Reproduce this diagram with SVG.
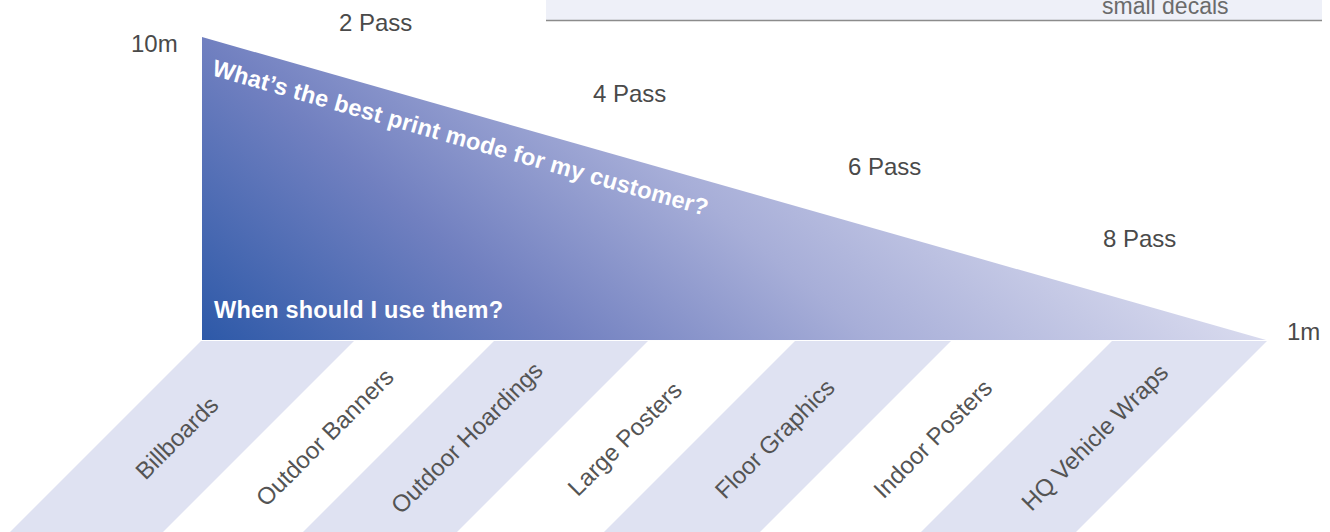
<svg xmlns="http://www.w3.org/2000/svg" width="1330" height="532" viewBox="0 0 1330 532">
  <defs>
    <linearGradient id="triGrad" gradientUnits="userSpaceOnUse" x1="202" y1="341" x2="640" y2="-183">
      <stop offset="0" stop-color="#2D59A8"/>
      <stop offset="0.34" stop-color="#7180C0"/>
      <stop offset="0.63" stop-color="#A7AED8"/>
      <stop offset="1" stop-color="#D8DAEE"/>
    </linearGradient>
    <style>
      .lbl { font-family: "Liberation Sans", Arial, Helvetica, sans-serif; font-size: 24px; fill: #4A4A4A; }
      .band { fill: #DFE2F2; }
      .bandtxt { font-family: "Liberation Sans", Arial, Helvetica, sans-serif; font-size: 24px; fill: #545454; text-anchor: middle; }
      .white { font-family: "Liberation Sans", Arial, Helvetica, sans-serif; font-weight: bold; font-size: 23.5px; fill: #FFFFFF; letter-spacing: 0.2px; }
    </style>
  </defs>
  <rect width="1330" height="532" fill="#FFFFFF"/>

  <g id="header">
    <rect x="546" y="0" width="776" height="20" fill="#EEF0F8"/>
    <line x1="546" y1="20.5" x2="1322" y2="20.5" stroke="#8C8C8C" stroke-width="1.5"/>
    <text x="1102" y="14" font-family="Liberation Sans, Arial, sans-serif" font-size="23" fill="#6B6B6B">small decals</text>
  </g>

  <g id="bands">
    <g id="band-billboards">
      <polygon class="band" points="201,341 354,341 163,532 10,532"/>
      <text class="bandtxt" transform="translate(177,438) rotate(-45)" x="0" y="8">Billboards</text>
    </g>
    <g id="band-outdoor-banners">
      <text class="bandtxt" transform="translate(325,437.5) rotate(-45)" x="0" y="8">Outdoor Banners</text>
    </g>
    <g id="band-outdoor-hoardings">
      <polygon class="band" points="494,341 648,341 457,532 303,532"/>
      <text class="bandtxt" transform="translate(467,438) rotate(-45)" x="0" y="8">Outdoor Hoardings</text>
    </g>
    <g id="band-large-posters">
      <text class="bandtxt" transform="translate(625,439) rotate(-45)" x="0" y="8">Large Posters</text>
    </g>
    <g id="band-floor-graphics">
      <polygon class="band" points="795,341 951,341 760,532 604,532"/>
      <text class="bandtxt" transform="translate(775,439) rotate(-45)" x="0" y="8">Floor Graphics</text>
    </g>
    <g id="band-indoor-posters">
      <text class="bandtxt" transform="translate(933,439) rotate(-45)" x="0" y="8">Indoor Posters</text>
    </g>
    <g id="band-hq-vehicle-wraps">
      <polygon class="band" points="1112,341 1267,341 1076,532 921,532"/>
      <text class="bandtxt" transform="translate(1095,437.5) rotate(-45)" x="0" y="8">HQ Vehicle Wraps</text>
    </g>
  </g>

  <g id="triangle">
    <polygon points="202,37 202,340 1266,340" fill="url(#triGrad)"/>
    <text class="white" transform="translate(211,75) rotate(15.9)" x="0" y="0">What’s the best print mode for my customer?</text>
    <text class="white" x="214" y="318">When should I use them?</text>
  </g>

  <g id="scale-labels">
    <text class="lbl" x="131" y="52">10m</text>
    <text class="lbl" x="1287" y="340">1m</text>
  </g>

  <g id="pass-labels">
    <text class="lbl" x="339" y="31">2 Pass</text>
    <text class="lbl" x="593" y="102">4 Pass</text>
    <text class="lbl" x="848" y="175">6 Pass</text>
    <text class="lbl" x="1103" y="247">8 Pass</text>
  </g>

  <g id="connectors"/>
</svg>
